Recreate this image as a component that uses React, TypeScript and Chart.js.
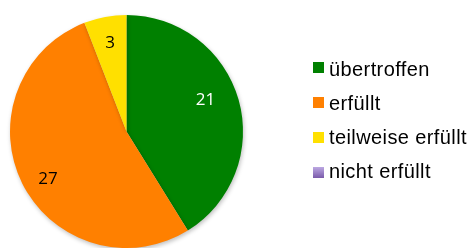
import React, { useEffect, useRef } from "react";
import { Chart, registerables } from "chart.js";

Chart.register(...registerables);

const categories = ["übertroffen", "erfüllt", "teilweise erfüllt", "nicht erfüllt"];
const values = [21, 27, 3, 0];
const colors = ["#008000", "#FF8000", "#FFE000", "#9B80C8"];
const labelColors = ["#FFFFFF", "#000000", "#000000", "#000000"];
// label placement (fraction of radius, angular nudge in degrees)
const labelRadius = [0.73, 0.79, 0.77, 0.75];
const labelNudge = [-6, -5, 0, 0];

const valueLabels = {
  id: "valueLabels",
  afterDatasetsDraw(chart: any) {
    const ctx = chart.ctx;
    const meta = chart.getDatasetMeta(0);
    ctx.save();
    ctx.font = "17px 'Open Sans', 'Noto Sans', sans-serif";
    ctx.textAlign = "center";
    ctx.textBaseline = "middle";
    meta.data.forEach((arc: any, i: number) => {
      if (!values[i]) return;
      const { x, y, startAngle, endAngle, outerRadius } = arc.getProps(
        ["x", "y", "startAngle", "endAngle", "outerRadius"],
        true
      );
      const mid = (startAngle + endAngle) / 2 + (labelNudge[i] * Math.PI) / 180;
      const r = outerRadius * labelRadius[i];
      ctx.fillStyle = labelColors[i];
      ctx.fillText(String(values[i]), x + Math.cos(mid) * r, y + Math.sin(mid) * r);
    });
    ctx.restore();
  },
};

const shadow = {
  id: "shadow",
  beforeDatasetsDraw(chart: any) {
    const ctx = chart.ctx;
    ctx.save();
    ctx.shadowColor = "rgba(0,0,0,0.25)";
    ctx.shadowBlur = 4;
    ctx.shadowOffsetX = 1;
    ctx.shadowOffsetY = 2;
  },
  afterDatasetsDraw(chart: any) {
    chart.ctx.restore();
  },
};

export default function App() {
  const ref = useRef<HTMLCanvasElement>(null);
  useEffect(() => {
    document.body.style.margin = "0";
    const chart = new Chart(ref.current!, {
      type: "pie",
      data: {
        labels: categories,
        datasets: [
          {
            data: values,
            backgroundColor: colors,
            borderWidth: 0,
          },
        ],
      },
      options: {
        animation: false,
        responsive: false,
        devicePixelRatio: 1,
        layout: { padding: { left: 10, right: 228, top: 15, bottom: 0 } },
        plugins: { legend: { display: false }, tooltip: { enabled: false } },
      },
      plugins: [shadow, valueLabels],
    });
    return () => chart.destroy();
  }, []);

  return (
    <div style={{ position: "relative", width: 471, height: 248, background: "#fff", overflow: "hidden" }}>
      <canvas ref={ref} width={471} height={248} style={{ position: "absolute", left: 0, top: 0 }} />
      {categories.map((c, i) => (
        <React.Fragment key={c}>
          <span
            style={{
              position: "absolute",
              left: 313,
              top: 62 + i * 34.9,
              width: 11,
              height: 11,
              background: i === 3 ? "linear-gradient(#BCA8E2, #7A5AAA)" : colors[i],
            }}
          />
          <span
            style={{
              position: "absolute",
              left: 329,
              top: 75.5 + i * 34 - 16.9,
              fontFamily: "'Liberation Sans', Arial, sans-serif",
              fontSize: 20,
              letterSpacing: 0.4,
              lineHeight: 1,
              whiteSpace: "nowrap",
              color: "#000",
            }}
          >
            {c}
          </span>
        </React.Fragment>
      ))}
    </div>
  );
}
